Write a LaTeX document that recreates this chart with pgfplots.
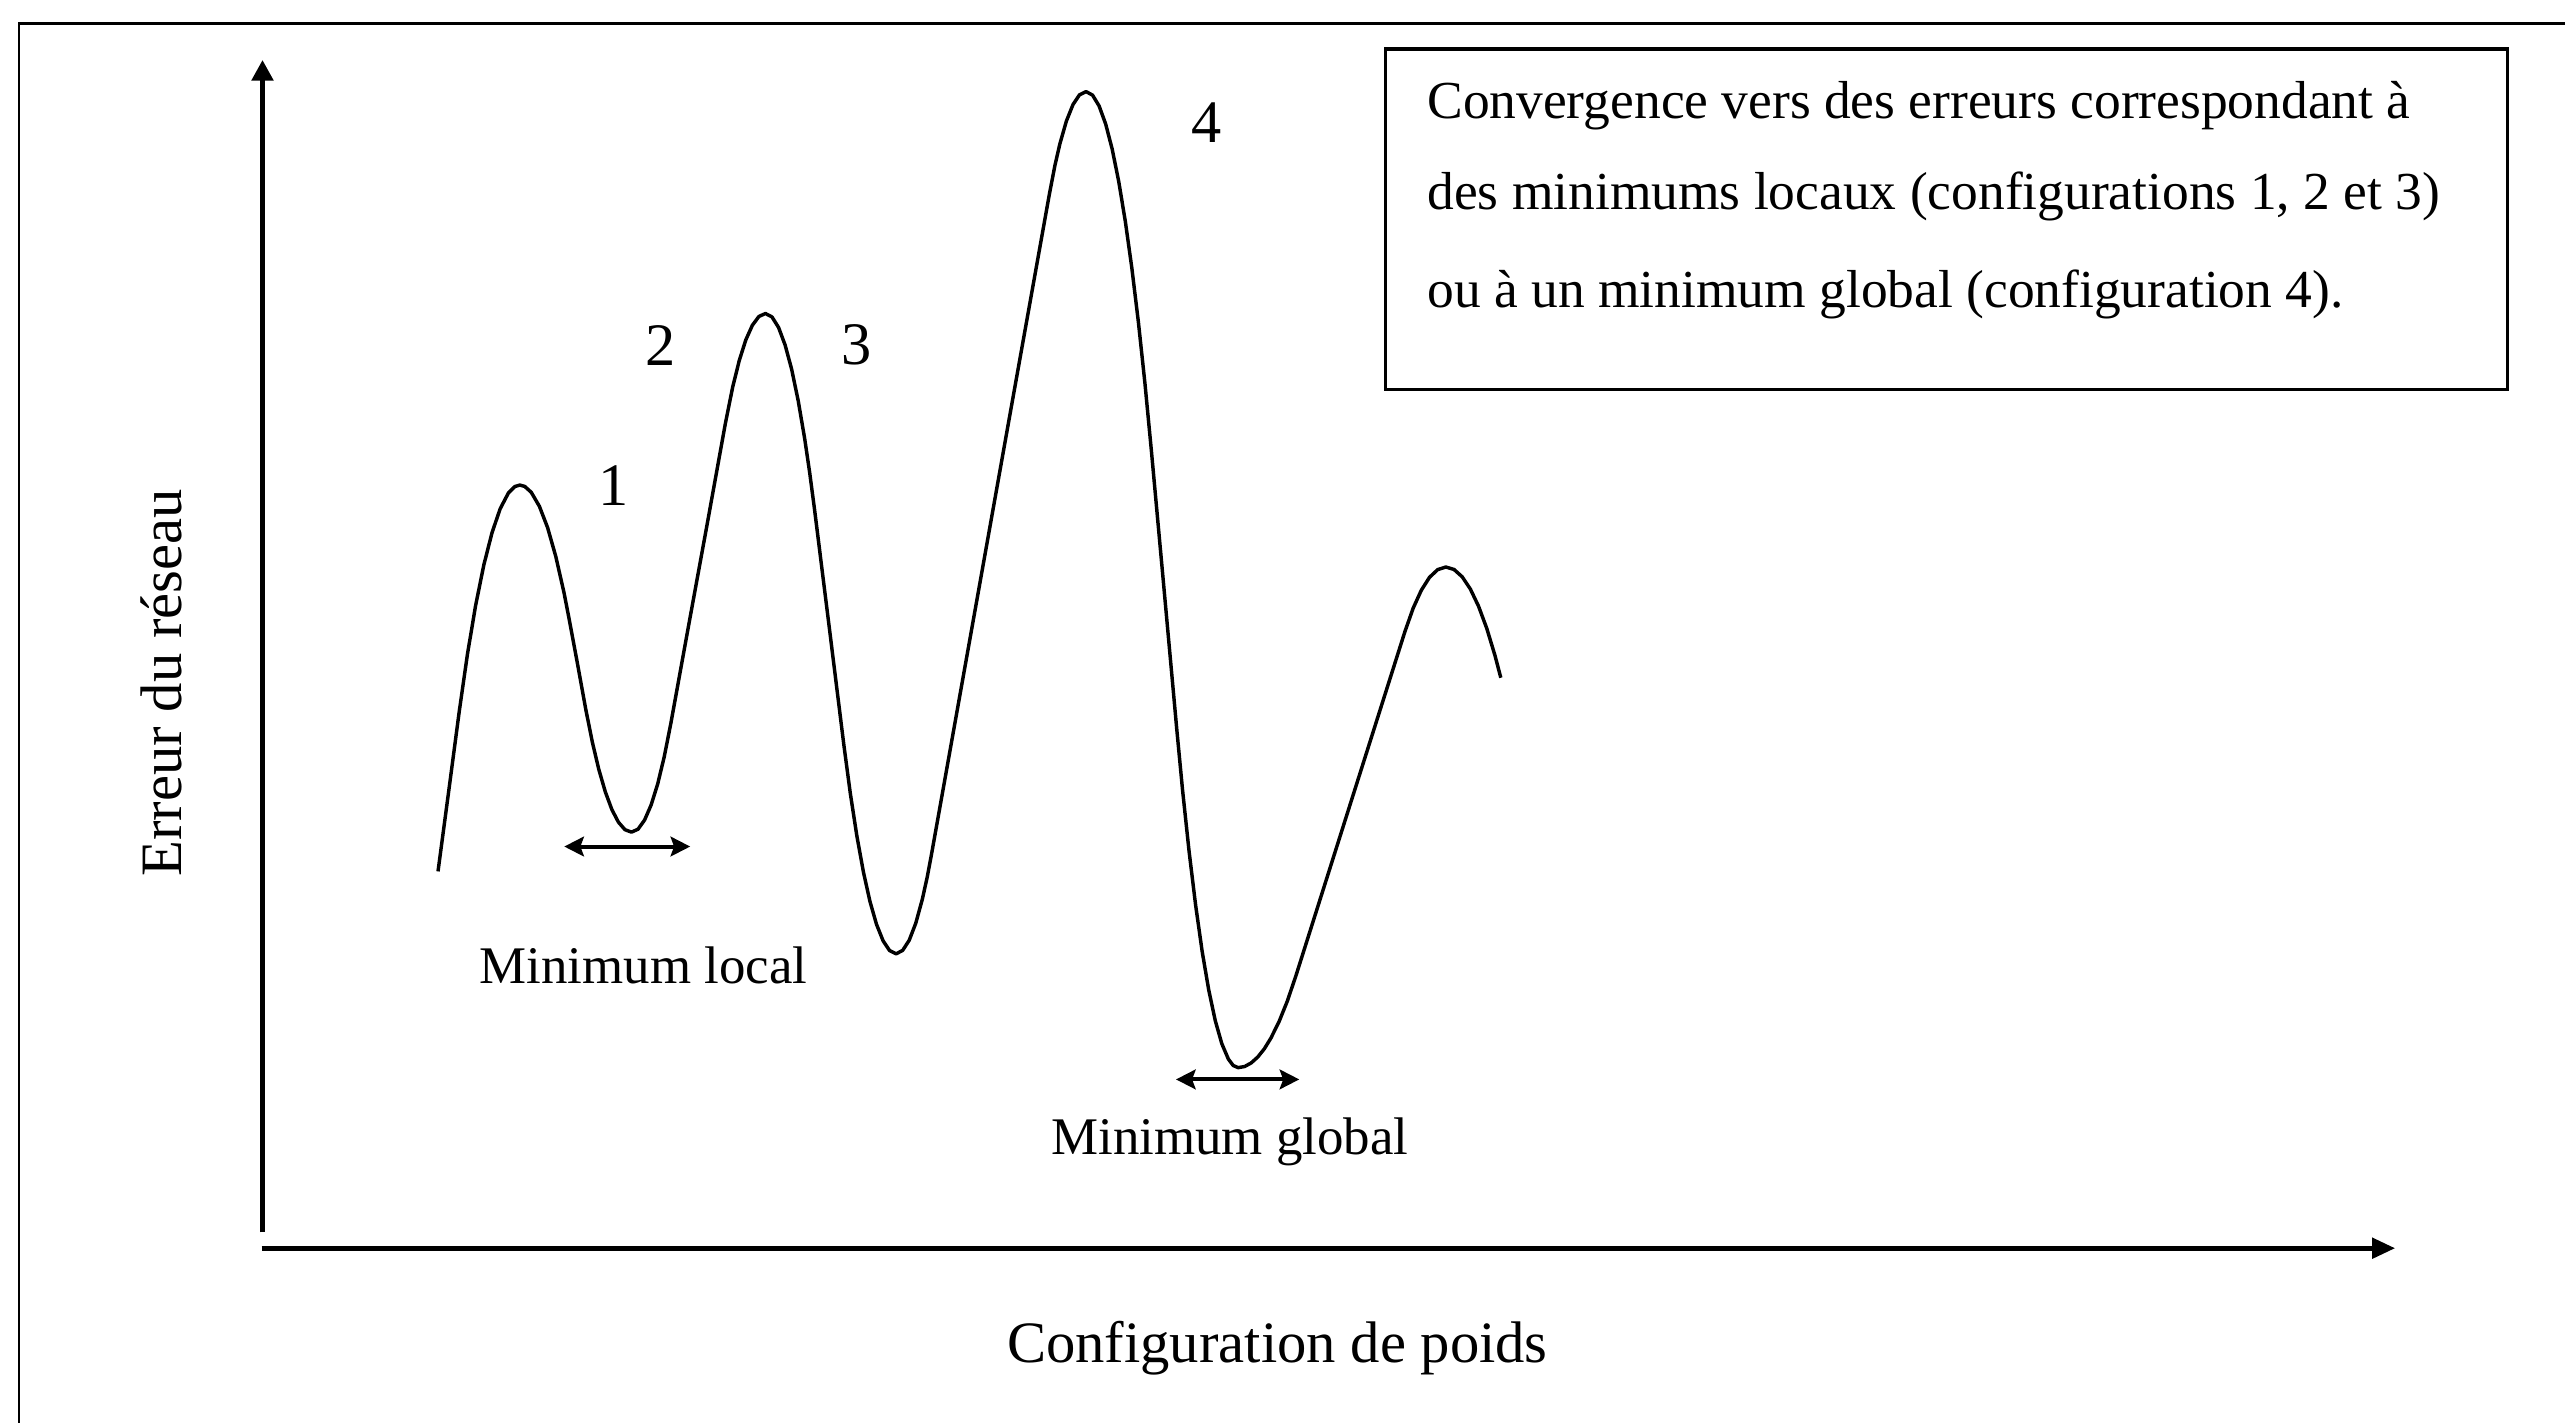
\documentclass[border=0pt]{standalone}
\usepackage{fontspec}
\setmainfont{Liberation Serif}
\usepackage{pgfplots}
\pgfplotsset{compat=1.18}
\usetikzlibrary{arrows.meta}

\begin{document}
\begin{tikzpicture}
\begin{axis}[
  width=15.68cm, height=8.7cm, scale only axis,
  xmin=0, xmax=1568, ymin=0, ymax=870, y dir=reverse,
  axis lines=none, clip=false,
]
% keep the full canvas in the bounding box
\path (0,0) rectangle (1568,870);

% outer frame (right and bottom sides fall outside the picture)
\draw[line width=0.5pt] (11.6,870) -- (11.6,14.3) -- (1568,14.3);

% axes
\draw[line width=0.8pt, -{Triangle[length=3.6pt,width=3.7pt]}] (160.5,753.5) -- (160.5,36.7);
\draw[line width=0.8pt, -{Triangle[length=4pt,width=3.5pt]}] (160,763.2) -- (1464.4,763.2);

% error curve (rounded extrema joined by straight flanks)
\addplot[line width=0.6pt, sharp plot, line join=round] coordinates {
  (267.8,532.8) (274.3,484.1)
  (280.8,434.9) (285.8,400.0) (290.8,370.2) (295.8,345.5) (300.8,325.8)
  (305.8,311.1) (310.8,301.5) (314.8,297.5) (317.8,296.6) (320.8,297.4)
  (324.8,301.0) (329.8,309.6) (334.8,322.6) (339.8,340.2) (344.8,362.2)
  (347.8,377.6) (353,405.4)
  (358.1,433.5) (362.1,453.5) (366.1,470.4) (370.1,484.2) (374.1,495.0)
  (378.1,502.7) (382.1,507.3) (386.1,508.8) (390.1,507.0) (394.1,501.4)
  (398.1,492.2) (402.1,479.4) (406.1,462.8) (410.1,442.6)
  (421.2,381.5) (432.4,320.3)
  (443.5,258.9) (448,236.5) (452,220.4) (456,207.8) (460,198.9)
  (464,193.5) (468,191.7) (472,193.8) (476,200.2) (480,210.9)
  (484,225.7) (488,244.9) (492,268.3) (495,288.7) (498,311.4)
  (507,383.5)
  (515.9,455.2) (519.9,485.2) (523.9,511.2) (527.9,533.2) (531.9,551.2)
  (535.9,565.2) (539.9,575.2) (543.9,581.2) (547.9,583.2) (551.9,581.1)
  (555.9,574.9) (559.9,564.5) (563.9,549.9) (566.9,536.3) (569.5,522.5)
  (593.5,388) (617.5,253.4)
  (641.6,118.7) (645,101.1) (648,88) (652,74) (656,64) (660,58)
  (664,56) (668,58.2) (672,64.8) (676,75.8) (680,91.2) (684,111)
  (688,135.2) (692,163.8) (696,196.8) (700,234.2) (704,276)
  (711.8,361.3)
  (719.5,446.1) (723,482.9) (727,520.5) (731,553.4) (735,581.7)
  (739,605.2) (743,624.0) (747,638.1) (751,647.5) (754,651.5) (757,652.8)
  (761,652.1) (765,649.9) (769,646.3) (773,641.3) (777,634.8)
  (782,624.7) (787,612.3) (792.2,597.0)
  (825.6,491.5)
  (859,386.1) (864,371.9) (869,360.9) (874,353.0) (879,348.3) (884,346.7)
  (889,348.2) (894,352.7) (899,360.2) (904,370.7) (909,384.2) (914,400.7)
  (917.6,414.4)
};

% numbered configurations
\node[font=\fontsize{10.5}{12}\selectfont] at (375,297) {1};
\node[font=\fontsize{10.5}{12}\selectfont] at (404,211) {2};
\node[font=\fontsize{10.5}{12}\selectfont] at (524,211) {3};
\node[font=\fontsize{10.5}{12}\selectfont] at (738,75) {4};

% minima
\draw[line width=0.7pt, {Stealth[length=3.4pt,width=3.4pt,inset=0.6pt]}-{Stealth[length=3.4pt,width=3.4pt,inset=0.6pt]}] (345,517.6) -- (422,517.6);
\draw[line width=0.7pt, {Stealth[length=3.4pt,width=3.4pt,inset=0.6pt]}-{Stealth[length=3.4pt,width=3.4pt,inset=0.6pt]}] (719,660) -- (794.4,660);
\node[anchor=base, font=\fontsize{9.2}{11}\selectfont] at (393.5,601.5) {Minimum local};
\node[anchor=base, font=\fontsize{9.2}{11}\selectfont] at (752,705.8) {Minimum global};

% explanation box
\draw[line width=0.55pt] (847,30) rectangle (1533,238);
\node[anchor=base west, inner sep=0pt, font=\fontsize{9.3}{11}\selectfont] at (872,72.6) {Convergence vers des erreurs correspondant à};
\node[anchor=base west, inner sep=0pt, font=\fontsize{9.3}{11}\selectfont] at (872,128.1) {des minimums locaux (configurations 1, 2 et 3)};
\node[anchor=base west, inner sep=0pt, font=\fontsize{9.3}{11}\selectfont] at (872,187.8) {ou à un minimum global (configuration 4).};

% axis titles
\node[anchor=base, font=\fontsize{10.2}{12}\selectfont] at (781,833) {Configuration de poids};
\node[rotate=90, anchor=base, font=\fontsize{10.2}{12}\selectfont] at (111,417.5) {Erreur du réseau};
\end{axis}
\end{tikzpicture}
\end{document}
